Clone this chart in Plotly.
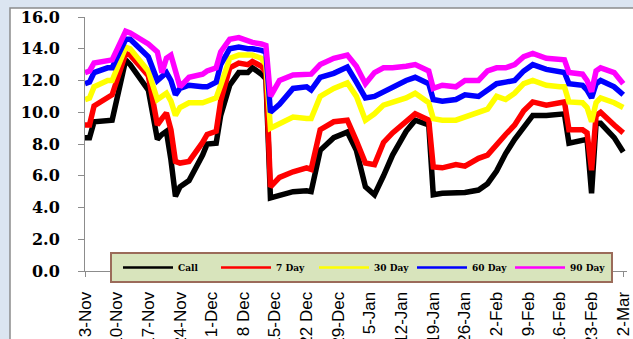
import plotly.graph_objects as go

dates = ["2008-11-03", "2008-11-04", "2008-11-05", "2008-11-08", "2008-11-09",
         "2008-11-12", "2008-11-13", "2008-11-17", "2008-11-19", "2008-11-20",
         "2008-11-21", "2008-11-22", "2008-11-23", "2008-11-24", "2008-11-26",
         "2008-11-29", "2008-11-30", "2008-12-02", "2008-12-03", "2008-12-05",
         "2008-12-07", "2008-12-09", "2008-12-10", "2008-12-12", "2008-12-13",
         "2008-12-14", "2008-12-16", "2008-12-19", "2008-12-22", "2008-12-23",
         "2008-12-25", "2008-12-28", "2008-12-31", "2009-01-02", "2009-01-04",
         "2009-01-06", "2009-01-08", "2009-01-10", "2009-01-13", "2009-01-15",
         "2009-01-18", "2009-01-19", "2009-01-21", "2009-01-24", "2009-01-26",
         "2009-01-29", "2009-01-31", "2009-02-02", "2009-02-04", "2009-02-06",
         "2009-02-08", "2009-02-10", "2009-02-13", "2009-02-16", "2009-02-17",
         "2009-02-18", "2009-02-21", "2009-02-22", "2009-02-23", "2009-02-24",
         "2009-02-25", "2009-02-28", "2009-03-02"]

call = [8.4, 8.4, 9.4, 9.5, 9.5,
        13.3, 13.0, 11.4, 8.3, 8.6,
        8.8, 7.0, 4.7, 5.3, 5.7,
        7.3, 8.0, 8.05, 9.8, 11.7,
        12.5, 12.5, 12.8, 12.4, 12.1,
        4.6, 4.75, 5.0, 5.05, 5.0,
        7.6, 8.4, 8.75, 7.6, 5.3,
        4.8, 6.0, 7.3, 8.8, 9.5,
        9.2, 4.8, 4.9, 4.9, 4.95,
        5.1, 5.5, 6.3, 7.4, 8.3,
        9.0, 9.8, 9.8, 9.85, 9.9,
        8.05, 8.3, 8.3, 4.9, 9.3,
        9.3, 8.4, 7.5]

day7 = [9.2, 9.2, 10.4, 10.9, 11.1,
        13.7, 13.6, 12.3, 9.2, 9.6,
        9.95, 8.9, 6.9, 6.8, 6.9,
        8.1, 8.6, 8.8, 10.7, 12.8,
        13.1, 13.0, 13.2, 12.9, 12.5,
        5.3, 5.9, 6.25, 6.5, 6.4,
        8.9, 9.4, 9.5, 8.2, 6.8,
        6.7, 8.1, 8.7, 9.4, 9.9,
        9.5, 6.55, 6.5, 6.7, 6.6,
        7.1, 7.3, 8.0, 8.6, 9.2,
        10.1, 10.65, 10.45, 10.6, 10.65,
        8.9, 8.9, 8.7, 6.35, 9.8,
        10.0, 9.2, 8.7]

day30 = [10.8, 10.9, 11.6, 12.0, 12.0,
         14.1, 14.0, 12.6, 10.8, 11.0,
         11.2, 10.7, 9.8, 10.3, 10.6,
         10.6, 10.7, 10.9, 11.7, 13.4,
         13.6, 13.6, 13.6, 13.4, 13.0,
         9.0, 9.3, 9.7, 9.6, 9.6,
         11.0, 11.5, 11.85, 11.0, 9.5,
         9.9, 10.45, 10.6, 10.9, 11.2,
         10.6, 9.6, 9.5, 9.5, 9.7,
         10.0, 10.2, 11.0, 10.8, 11.2,
         11.8, 12.0, 11.7, 11.6, 11.6,
         10.65, 10.6, 10.3, 9.4, 10.6,
         10.9, 10.6, 10.3]

day60 = [11.8, 11.9, 12.5, 12.8, 12.8,
         14.6, 14.6, 13.5, 12.0, 12.3,
         12.5, 12.0, 11.1, 11.5, 11.7,
         11.6, 11.6, 11.9, 13.0, 14.0,
         14.1, 14.0, 14.0, 13.9, 13.8,
         10.0, 10.5, 11.5, 11.6, 11.4,
         12.2, 12.45, 12.85, 11.9, 10.9,
         11.0, 11.3, 11.6, 12.0, 12.2,
         11.8, 10.8, 10.7, 10.8, 11.1,
         11.0, 11.4, 11.8, 11.9, 12.0,
         12.6, 13.0, 12.7, 12.5, 12.5,
         11.8, 11.7, 11.4, 10.9, 11.8,
         12.0, 11.6, 11.1]

day90 = [12.5, 12.6, 13.1, 13.2, 13.3,
         15.1, 15.0, 14.3, 13.8, 12.5,
         13.4, 13.6, 12.6, 11.6, 12.2,
         12.4, 12.6, 12.8, 13.8, 14.6,
         14.7, 14.5, 14.4, 14.3, 14.2,
         11.0, 12.0, 12.35, 12.4, 12.4,
         13.0, 13.4, 13.6, 12.9, 11.8,
         12.5, 12.8, 12.8, 12.9, 13.0,
         12.6, 11.5, 11.7, 11.6, 12.0,
         12.0, 12.6, 12.8, 12.8, 13.0,
         13.5, 13.7, 13.4, 13.3, 13.3,
         12.5, 12.4, 12.0, 11.3, 12.6,
         12.8, 12.5, 11.8]

series_names = ["Call", "7 Day", "30 Day", "60 Day", "90 Day"]
series_values = [call, day7, day30, day60, day90]
series_colors = ["#000000", "#ff0000", "#ffff00", "#0000ff", "#ff00ff"]

tick_dates = ["2008-11-03", "2008-11-10", "2008-11-17", "2008-11-24", "2008-12-01",
              "2008-12-08", "2008-12-15", "2008-12-22", "2008-12-29", "2009-01-05",
              "2009-01-12", "2009-01-19", "2009-01-26", "2009-02-02", "2009-02-09",
              "2009-02-16", "2009-02-23", "2009-03-02"]
tick_labels = ["3-Nov", "10-Nov", "17-Nov", "24-Nov", "1-Dec", "8 Dec", "15-Dec",
               "22 Dec", "29-Dec", "5-Jan", "12-Jan", "19-Jan", "26-Jan", "2-Feb",
               "9-Feb", "16-Feb", "23-Feb", "2-Mar"]
y_ticks = [0, 2, 4, 6, 8, 10, 12, 14, 16]

fig = go.Figure()
for name, vals, col in zip(series_names, series_values, series_colors):
    fig.add_trace(go.Scatter(x=dates, y=vals, mode="lines", name=name,
                             line=dict(color=col, width=5.5), showlegend=False))
# legend entries (thin lines)
for name, col in zip(series_names, series_colors):
    fig.add_trace(go.Scatter(x=[None], y=[None], mode="lines", name=name,
                             line=dict(color=col, width=2.5), showlegend=True))

L, R, T, B = 85, 6, 17, 68
W, H = 633, 339
pw, ph = W - L - R, H - T - B

def px_x(x):
    return (x - L) / pw

def px_y(y):
    return (H - B - y) / ph

shapes = [
    dict(type="rect", xref="paper", yref="paper", layer="below",
         x0=px_x(10), x1=px_x(640), y0=px_y(345), y1=px_y(8),
         fillcolor="white", line=dict(color="#8c8c8c", width=1.5)),
    dict(type="rect", xref="paper", yref="paper", layer="above",
         x0=px_x(111), x1=px_x(612), y0=px_y(282), y1=px_y(253),
         fillcolor="#d8e4bc", line=dict(color="#9b6b5a", width=2)),
]

fig.update_layout(
    width=W, height=H,
    margin=dict(l=L, r=R, t=T, b=B, pad=0, autoexpand=False),
    paper_bgcolor="#dbe5f1",
    plot_bgcolor="#d9d9d9",
    shapes=shapes,
    showlegend=True,
    legend=dict(orientation="h", x=px_x(118), xanchor="left",
                y=px_y(267.5), yanchor="middle",
                bgcolor="rgba(0,0,0,0)", borderwidth=0,
                font=dict(family="DejaVu Serif", size=9, color="black", weight="bold"),
                itemwidth=50, entrywidth=33, entrywidthmode="pixels",
                traceorder="normal"),
    xaxis=dict(type="date", range=["2008-11-03", "2009-03-02 20:00"],
               tickvals=tick_dates, ticktext=tick_labels, tickangle=-90,
               tickfont=dict(family="Liberation Sans Narrow, Arial Narrow, sans-serif",
                             size=17, color="black"),
               automargin=False, ticklabeloverflow="allow",
               showgrid=False, zeroline=False, showline=True, linecolor="#8c8c8c",
               linewidth=1, ticks="outside", ticklen=5, tickcolor="#8c8c8c",
               ticklabelstandoff=8),
    yaxis=dict(range=[0, 16], tickvals=y_ticks,
               ticktext=[f"{v:.1f}" for v in y_ticks],
               tickfont=dict(family="DejaVu Serif", size=16, color="black", weight="bold"),
               automargin=False,
               showgrid=False, zeroline=False, showline=True, linecolor="#8c8c8c",
               linewidth=1, ticks="outside", ticklen=6, tickcolor="#8c8c8c",
               ticklabelstandoff=15),
)

fig.write_html("out.html", config={"displayModeBar": False},
               post_script="document.body.style.margin='0';document.body.style.padding='0';")
